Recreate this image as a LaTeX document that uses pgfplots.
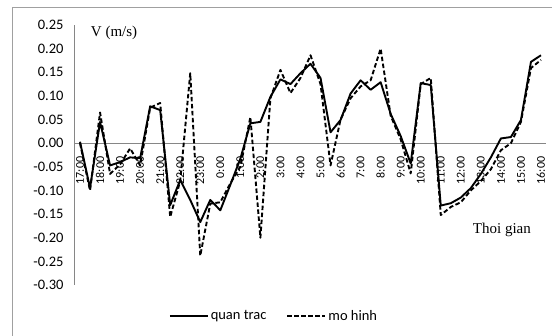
\documentclass[border=0pt]{standalone}
\usepackage{fontspec}
\setmainfont{Carlito}
\newfontfamily\tnr{Liberation Serif}
\usepackage{pgfplots}
\usepackage{pgfplotstable}
\pgfplotsset{compat=1.18}
\definecolor{axgray}{RGB}{134,134,134}
\definecolor{framegray}{RGB}{160,160,160}
\pgfplotstableread{
i obs mod
0 0.003 0.000
1 -0.095 -0.100
2 0.045 0.065
3 -0.047 -0.065
4 -0.040 -0.045
5 -0.030 -0.011
6 -0.032 -0.047
7 0.078 0.075
8 0.070 0.085
9 -0.131 -0.156
10 -0.078 -0.080
11 -0.120 0.148
12 -0.167 -0.238
13 -0.120 -0.128
14 -0.142 -0.125
15 -0.088 -0.085
16 -0.033 -0.050
17 0.042 0.055
18 0.045 -0.200
19 0.098 0.095
20 0.135 0.155
21 0.125 0.106
22 0.148 0.138
23 0.168 0.186
24 0.138 0.125
25 0.023 -0.047
26 0.049 0.050
27 0.105 0.095
28 0.133 0.120
29 0.113 0.133
30 0.129 0.200
31 0.062 0.058
32 0.015 0.008
33 -0.043 -0.064
34 0.127 0.125
35 0.123 0.138
36 -0.132 -0.152
37 -0.127 -0.135
38 -0.115 -0.125
39 -0.095 -0.100
40 -0.065 -0.080
41 -0.030 -0.055
42 0.010 -0.015
43 0.013 0.000
44 0.049 0.045
45 0.172 0.159
46 0.186 0.176
}\datatable
\begin{document}
\begin{tikzpicture}[x=1pt,y=1pt]
\useasboundingbox (0,0) rectangle (552,336);
\draw[framegray, line width=1pt] (12,0) -- (12,328) -- (552,328);
\begin{axis}[
  at={(75pt,51pt)}, anchor=south west,
  scale only axis, width=471pt, height=260pt,
  xmin=-0.5, xmax=46.5, ymin=-0.30, ymax=0.25,
  axis x line=middle, axis y line=left,
  hide obscured x ticks=false, hide obscured y ticks=false,
  axis line style={-, axgray, line width=1pt},
  major tick length=0pt,
  xtick={0,2,...,46},
  xticklabels={17:00,18:00,19:00,20:00,21:00,22:00,23:00,0:00,1:00,2:00,3:00,4:00,5:00,6:00,7:00,8:00,9:00,10:00,11:00,12:00,13:00,14:00,15:00,16:00},
  xticklabel style={yshift=-10pt, rotate=90, anchor=east, font=\fontsize{12pt}{14pt}\selectfont},
  ytick={-0.30,-0.25,...,0.26},
  yticklabel style={xshift=-8pt, anchor=east, font=\fontsize{14.5pt}{16pt}\selectfont,
    /pgf/number format/.cd, fixed, fixed zerofill, precision=2, assume math mode=true},
  scaled y ticks=false,
  clip=false,
  legend style={at={(0.4225,-0.119)}, anchor=center, draw=none, fill=none,
    font=\fontsize{14.5pt}{16pt}\selectfont, legend columns=2,
    /tikz/every even column/.append style={column sep=18pt}},
  legend image code/.code={\draw[#1] (0pt,0pt) -- (38pt,0pt);},
]
\addplot[black, line width=1.9pt, line join=round] table[x=i, y=obs] {\datatable};
\addlegendentry{quan trac}
\addplot[black, line width=1.9pt, line join=round, dash pattern=on 4.5pt off 2.5pt] table[x=i, y=mod] {\datatable};
\addlegendentry{mo hinh}
\node[font=\tnr\fontsize{15pt}{17pt}\selectfont] at (axis cs:3.4,0.233) {V (m/s)};
\node[font=\tnr\fontsize{15pt}{17pt}\selectfont] at (axis cs:42.1,-0.184) {Thoi gian};
\end{axis}
\end{tikzpicture}
\end{document}
